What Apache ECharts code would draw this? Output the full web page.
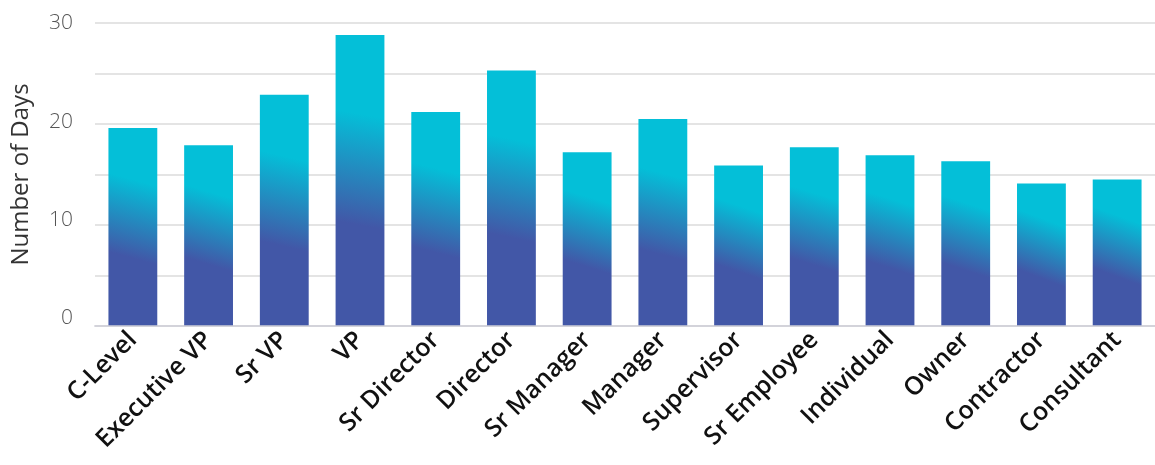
<!DOCTYPE html>
<html>
<head>
<meta charset="utf-8">
<script src="https://cdn.jsdelivr.net/npm/echarts@6/dist/echarts.min.js"></script>
<style>
  html, body { margin: 0; padding: 0; background: #fff; }
  #chart { width: 1155px; height: 465px; }
</style>
</head>
<body>
<div id="chart"></div>
<script>
// Average number of days by job level
const categories = ['C-Level', 'Executive VP', 'Sr VP', 'VP', 'Sr Director', 'Director',
  'Sr Manager', 'Manager', 'Supervisor', 'Sr Employee', 'Individual', 'Owner',
  'Contractor', 'Consultant'];
const days = [19.6, 17.9, 22.9, 28.8, 21.2, 25.3, 17.2, 20.5, 15.9, 17.7, 16.9, 16.3, 14.1, 14.5];
const yTickLabels = ['0', '10', '20', '30'];

const chart = echarts.init(document.getElementById('chart'), null, { renderer: 'canvas' });

// Diagonal fill: deep blue at the bottom-left fading into cyan at the top-right
const barFill = new echarts.graphic.LinearGradient(0, 1, 1.1, 0, [
  { offset: 0, color: '#4257A7' },
  { offset: 0.35, color: '#4257A7' },
  { offset: 0.72, color: '#04BFD8' },
  { offset: 1, color: '#04BFD8' }
]);

// Tick labels sit slightly above their grid lines, more so near the bottom
const tickRich = {
  t0: { padding: [0, 0, 16, 0] },
  t10: { padding: [0, 0, 10, 0] },
  t20: { padding: [0, 0, 4, 0] },
  t30: { padding: [0, 0, 0, 0] }
};

chart.setOption({
  animation: false,
  grid: { left: 95, right: -5, top: 23, bottom: 139, containLabel: false },
  xAxis: {
    type: 'category',
    data: categories,
    z: 5,
    axisLine: { show: true, lineStyle: { color: 'rgba(205,205,215,0.75)', width: 2 } },
    axisTick: { show: false },
    axisLabel: {
      interval: 0,
      rotate: 45,
      margin: 10,
      color: '#111',
      fontFamily: 'Open Sans',
      fontWeight: 600,
      fontSize: 25
    }
  },
  yAxis: {
    type: 'value',
    min: 0,
    max: 30,
    interval: 5,
    name: 'Number of Days',
    nameLocation: 'middle',
    nameGap: 62,
    nameTextStyle: { color: '#333', fontFamily: 'Open Sans', fontSize: 24 },
    axisLine: { show: false },
    axisTick: { show: false },
    splitLine: { lineStyle: { color: '#e4e4e4', width: 2 } },
    axisLabel: {
      margin: 22,
      color: '#555',
      fontFamily: 'Open Sans',
      fontWeight: 300,
      fontSize: 21,
      rich: tickRich,
      formatter: function (v) {
        const s = String(v);
        return yTickLabels.indexOf(s) >= 0 ? '{t' + s + '|' + s + '}' : '';
      }
    }
  },
  series: [{
    type: 'bar',
    data: days,
    barWidth: '64.5%',
    itemStyle: { color: barFill }
  }]
});
</script>
</body>
</html>
